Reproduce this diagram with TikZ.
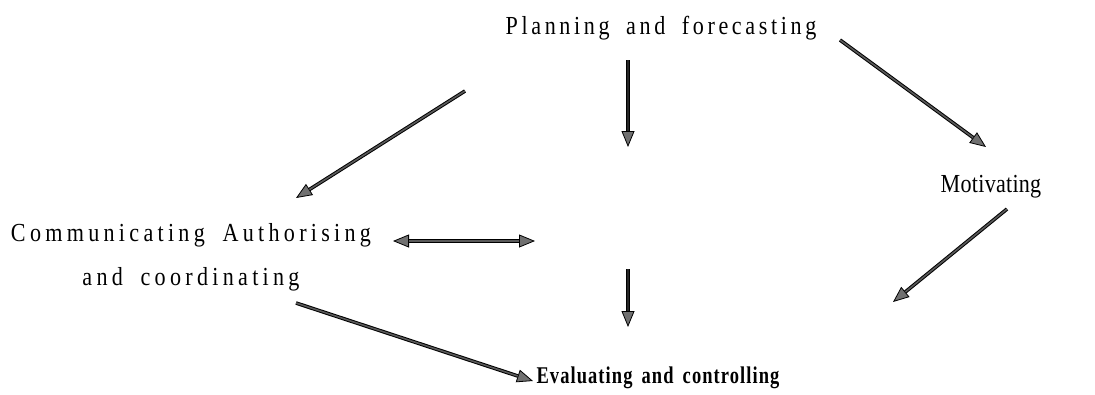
\documentclass[tikz,border=0pt]{standalone}
\usepackage{fontspec}
\usetikzlibrary{arrows.meta}
\newfontfamily\planfont[FakeStretch=0.85,LetterSpace=14,WordSpace=1.8]{Liberation Serif}
\newfontfamily\commfont[FakeStretch=0.85,LetterSpace=16.5,WordSpace=1.8]{Liberation Serif}
\newfontfamily\motivfont[FakeStretch=0.85,LetterSpace=1]{Liberation Serif}
\newfontfamily\evalfont[FakeStretch=0.77,LetterSpace=4.5,WordSpace=1.6]{Liberation Serif}
\definecolor{shaftgray}{HTML}{5A5A5A}
\definecolor{headgray}{HTML}{707070}
\tikzset{
  headtip/.tip={Triangle[length=16pt,width=13pt,line width=0.8pt,fill=headgray]},
  lbl/.style={inner sep=0pt, anchor=base},
  conn/.style={draw=black, line width=3.6pt, -{headtip},
    postaction={draw=shaftgray, line width=1.6pt, -, shorten >=16pt}},
  vconn/.style={draw=black, line width=3.6pt, -{headtip},
    postaction={draw=black!85, line width=1.6pt, -, shorten >=16pt}},
  biconn/.style={draw=black, line width=3.6pt, {headtip}-{headtip},
    postaction={draw=shaftgray, line width=1.6pt, -, shorten >=16pt, shorten <=16pt}},
}
\begin{document}
\begin{tikzpicture}[x=1pt,y=-1pt]
  \useasboundingbox (0,0) rectangle (1095,394);

  % labels (base anchor of the two-line label sits on its last line)
  \node[lbl, font=\planfont\fontsize{26}{30}\selectfont] (plan) at (661,34) {Planning and forecasting};
  \node[lbl, align=center, font=\commfont\fontsize{26}{44}\selectfont] (comm) at (191,285) {Communicating Authorising\\and coordinating};
  \node[lbl, font=\motivfont\fontsize{26}{30}\selectfont] (motiv) at (991,192) {Motivating};
  \node[lbl, font=\evalfont\bfseries\fontsize{24}{28}\selectfont] (eval) at (658,383) {Evaluating and controlling};

  % connector end points
  \coordinate (p1s) at (465,91);
  \coordinate (p1e) at (296,198);
  \coordinate (v1s) at (628,60);
  \coordinate (v1e) at (628,147);
  \coordinate (p3s) at (840,40);
  \coordinate (p3e) at (986,147);
  \coordinate (dl) at (393,241);
  \coordinate (dr) at (535,241);
  \coordinate (v2s) at (628,269);
  \coordinate (v2e) at (628,327);
  \coordinate (m1s) at (1007,209);
  \coordinate (m1e) at (893,302);
  \coordinate (c1s) at (296,303);
  \coordinate (c1e) at (533,381);

  % connectors
  \draw[conn] (p1s) -- (p1e);
  \draw[vconn] (v1s) -- (v1e);
  \draw[conn] (p3s) -- (p3e);
  \draw[biconn] (dl) -- (dr);
  \draw[vconn] (v2s) -- (v2e);
  \draw[conn] (m1s) -- (m1e);
  \draw[conn] (c1s) -- (c1e);
\end{tikzpicture}
\end{document}
